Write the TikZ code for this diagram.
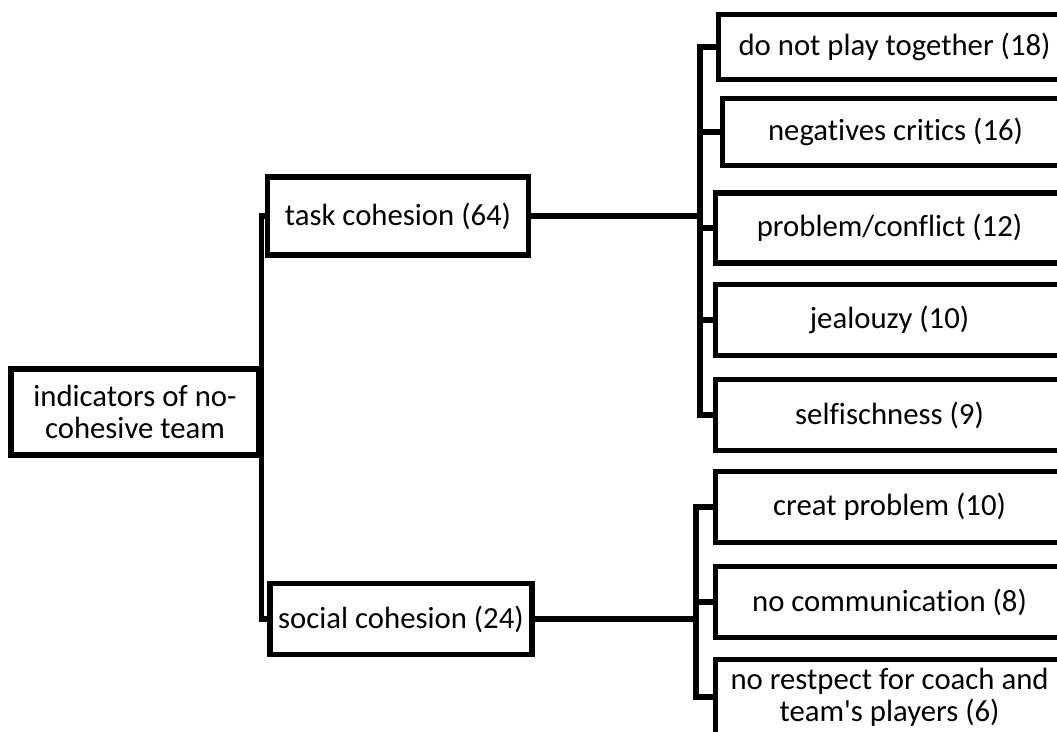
\documentclass[tikz,border=0pt]{standalone}
\usepackage{fontspec}
\setmainfont{Carlito}[Ligatures={NoCommon}]

\begin{document}
\begin{tikzpicture}[
    x=0.02cm, y=-0.02cm,
    box/.style={draw, line width=2.9pt, inner sep=0pt, align=center,
        font=\fontsize{17.5}{18}\selectfont},
    leaf/.style={box, anchor=west, minimum width=348*\px},
    conn/.style={line width=3pt},
]
\def\px{0.02cm}

% --- Frame: pixel grid of the page, boxes run off the right edge ---
\useasboundingbox (0,0) rectangle (1057,731);
\clip (0,0) rectangle (1057,731);

% --- Root and the two kinds of cohesion ---
\node[box, minimum width=248*\px, minimum height=86*\px] (root) at (135,412)
    {indicators of no-\\cohesive team};
\node[box, minimum width=261*\px, minimum height=78*\px] (task) at (398,216)
    {task cohesion (64)};
\node[box, minimum width=262*\px, minimum height=71*\px] (social) at (401,619)
    {social cohesion (24)};

% --- Task cohesion indicators ---
\node[leaf, minimum width=352*\px, minimum height=65*\px] (play) at (716,47)
    {do not play together (18)};
\node[leaf, minimum width=346*\px, minimum height=67*\px] (critics) at (720,132)
    {negatives critics (16)};
\node[leaf, minimum height=70*\px] (conflict) at (713,228) {problem/conflict (12)};
\node[leaf, minimum height=71*\px] (jealousy) at (713,320) {jealouzy (10)};
\node[leaf, minimum height=71*\px] (selfish) at (713,415) {selfischness (9)};

% --- Social cohesion indicators ---
\node[leaf, minimum height=71*\px] (creat) at (713,507) {creat problem (10)};
\node[leaf, minimum height=71*\px] (comm) at (713,602) {no communication (8)};
\node[leaf, minimum height=75*\px] (respect) at (713,697)
    {no restpect for coach and\\team\textquotesingle s players (6)};

% --- Connectors ---
\draw[conn] (task.west) -| (root.east) |- (social.west);

\coordinate (tbus) at (700,216);
\coordinate (sbus) at (696,619);
\draw[conn] (task.east) -- (tbus);
\foreach \n in {play,critics,conflict,jealousy,selfish}
    \draw[conn] (tbus) |- (\n.west);
\draw[conn] (social.east) -- (sbus);
\foreach \n in {creat,comm,respect}
    \draw[conn] (sbus) |- (\n.west);

\end{tikzpicture}
\end{document}
